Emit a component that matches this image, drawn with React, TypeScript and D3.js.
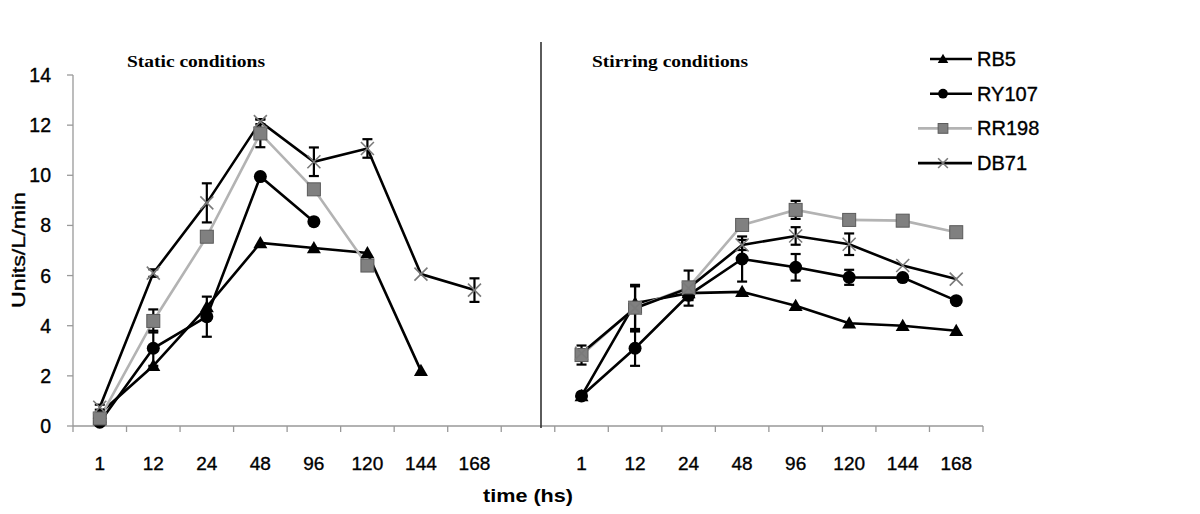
import React from "react";
import * as d3 from "d3";

const times = ["1", "12", "24", "48", "96", "120", "144", "168"];
const yTicks = [0, 2, 4, 6, 8, 10, 12, 14];
const seriesNames = ["RB5", "RY107", "RR198", "DB71"];

// Static conditions
const staticRB5 = [0.5, 2.4, 4.75, 7.3, 7.1, 6.9, 2.2, null];
const staticRY107 = [0.15, 3.1, 4.36, 9.95, 8.15, null, null, null];
const staticRR198 = [0.3, 4.19, 7.55, 11.67, 9.44, 6.4, null, null];
const staticDB71 = [0.75, 6.1, 8.9, 12.14, 10.54, 11.07, 6.06, 5.42];
const staticErrRB5 = [0, 0, 0, 0, 0, 0, 0, 0];
const staticErrRY107 = [0, 0.7, 0.8, 0, 0, 0, 0, 0];
const staticErrRR198 = [0, 0.46, 0, 0.55, 0, 0, 0, 0];
const staticErrDB71 = [0.1, 0.15, 0.78, 0.1, 0.57, 0.37, 0, 0.47];

// Stirring conditions
const stirRB5 = [1.2, 4.9, 5.3, 5.35, 4.8, 4.1, 4.0, 3.8];
const stirRY107 = [1.2, 3.1, 5.22, 6.66, 6.33, 5.93, 5.92, 5.0];
const stirRR198 = [2.83, 4.72, 5.53, 8.02, 8.62, 8.22, 8.19, 7.73];
const stirDB71 = [2.9, 4.7, 5.5, 7.22, 7.58, 7.25, 6.4, 5.86];
const stirErrRB5 = [0, 0, 0, 0, 0, 0, 0, 0];
const stirErrRY107 = [0, 0.7, 0.2, 0.9, 0.53, 0.3, 0, 0];
const stirErrRR198 = [0.38, 0.85, 0.2, 0.2, 0.36, 0, 0, 0];
const stirErrDB71 = [0.15, 0.93, 0.7, 0.2, 0.35, 0.43, 0, 0];

type Style = { line: string; marker: string };
const styles: Style[] = [
  { line: "#000", marker: "triangle" },
  { line: "#000", marker: "circle" },
  { line: "#b3b3b3", marker: "square" },
  { line: "#000", marker: "cross" },
];

function Marker({ kind, x, y, s = 1 }: { kind: string; x: number; y: number; s?: number }) {
  if (kind === "triangle") {
    const r = 7 * s;
    return (
      <path
        d={`M${x},${y - r}L${x + r},${y + r * 0.75}L${x - r},${y + r * 0.75}Z`}
        fill="#000"
      />
    );
  }
  if (kind === "circle") return <circle cx={x} cy={y} r={6.5 * s} fill="#000" />;
  if (kind === "square") {
    const h = 6.5 * s;
    return <rect x={x - h} y={y - h} width={2 * h} height={2 * h} fill="#808080" stroke="#5a5a5a" strokeWidth={1} />;
  }
  const h = 6.5 * s;
  return (
    <path d={`M${x - h},${y - h}L${x + h},${y + h}M${x - h},${y + h}L${x + h},${y - h}`} stroke="#7a7a7a" strokeWidth={1.6} fill="none" />
  );
}

export default function App() {
  const W = 1200, H = 514;
  const keys = [...times.map((t) => "L" + t), "gap", ...times.map((t) => "R" + t)];
  const x = d3.scaleBand<string>().domain(keys).range([73, 983]).padding(0);
  const bw = x.bandwidth();
  const cx = (k: string) => (x(k) as number) + bw / 2;
  const y = d3.scaleLinear().domain([0, 14]).range([426, 75]);

  const panels = [
    { prefix: "L", data: [staticRB5, staticRY107, staticRR198, staticDB71], err: [staticErrRB5, staticErrRY107, staticErrRR198, staticErrDB71] },
    { prefix: "R", data: [stirRB5, stirRY107, stirRR198, stirDB71], err: [stirErrRB5, stirErrRY107, stirErrRR198, stirErrDB71] },
  ];

  const drawOrder = [0, 1, 2, 3];
  const heavy = { stroke: "#000", strokeWidth: 0.35 };

  return (
    <svg width={W} height={H} style={{ position: "absolute", left: 0, top: 0, background: "#fff" }} fontFamily="Liberation Sans, Arial, sans-serif">
      <rect width={W} height={H} fill="#fff" />
      {/* y axis */}
      <line x1={73} x2={73} y1={75} y2={426} stroke="#999" strokeWidth={1.3} />
      {yTicks.map((t) => (
        <g key={t}>
          <line x1={67} x2={73} y1={y(t)} y2={y(t)} stroke="#999" strokeWidth={1.3} />
          <text x={51} y={y(t) + 7} textAnchor="end" fontSize={19.5} fill="#000" {...heavy}>{t}</text>
        </g>
      ))}
      <text transform={`translate(25,250) rotate(-90)`} textAnchor="middle" fontSize={19} fill="#000" textLength={116} lengthAdjust="spacingAndGlyphs" {...heavy}>Units/L/min</text>
      {/* x axis */}
      <line x1={73} x2={983} y1={426} y2={426} stroke="#999" strokeWidth={1.3} />
      {keys.map((k) => (
        <line key={k} x1={x(k)} x2={x(k)} y1={426} y2={432} stroke="#999" strokeWidth={1.3} />
      ))}
      <line x1={983} x2={983} y1={426} y2={432} stroke="#999" strokeWidth={1.3} />
      {keys.filter((k) => k !== "gap").map((k) => (
        <text key={k} x={cx(k)} y={470} textAnchor="middle" fontSize={19} fill="#000" {...heavy}>{k.slice(1)}</text>
      ))}
      <text x={528} y={502} textAnchor="middle" fontSize={18} fontWeight="bold" fill="#000" textLength={90} lengthAdjust="spacingAndGlyphs">time (hs)</text>
      {/* divider */}
      <line x1={541} x2={541} y1={42} y2={428} stroke="#333" strokeWidth={1.6} />
      <text x={127} y={67} fontFamily="Liberation Serif, serif" fontWeight="bold" fontSize={17} fill="#000" textLength={138} lengthAdjust="spacingAndGlyphs">Static conditions</text>
      <text x={592} y={67} fontFamily="Liberation Serif, serif" fontWeight="bold" fontSize={17} fill="#000" textLength={156} lengthAdjust="spacingAndGlyphs">Stirring conditions</text>

      {panels.map((p) => (
        <g key={p.prefix}>
          {drawOrder.map((si) => {
            const pts = p.data[si]
              .map((v, i) => (v == null ? null : [cx(p.prefix + times[i]), y(v)] as [number, number]))
              .filter((d) => d != null) as [number, number][];
            const line = d3.line();
            return (
              <g key={si}>
                <path d={line(pts) || ""} fill="none" stroke={styles[si].line} strokeWidth={2.6} />
              </g>
            );
          })}
          {drawOrder.map((si) => (
            <g key={"e" + si}>
              {p.data[si].map((v, i) => {
                const e = p.err[si][i];
                if (v == null || !e) return null;
                const xx = cx(p.prefix + times[i]);
                return (
                  <g key={i} stroke="#000" strokeWidth={2.2}>
                    <line x1={xx} x2={xx} y1={y(v - e)} y2={y(v + e)} />
                    <line x1={xx - 5} x2={xx + 5} y1={y(v - e)} y2={y(v - e)} />
                    <line x1={xx - 5} x2={xx + 5} y1={y(v + e)} y2={y(v + e)} />
                  </g>
                );
              })}
            </g>
          ))}
          {drawOrder.map((si) => (
            <g key={"m" + si}>
              {p.data[si].map((v, i) =>
                v == null ? null : <Marker key={i} kind={styles[si].marker} x={cx(p.prefix + times[i])} y={y(v)} />
              )}
            </g>
          ))}
        </g>
      ))}

      {/* legend */}
      {seriesNames.map((n, i) => {
        const ly = 59 + i * 34.7;
        const x0 = i < 2 ? 930 : 918;
        return (
          <g key={n}>
            <line x1={x0} x2={972} y1={ly} y2={ly} stroke={styles[i].line} strokeWidth={2.6} />
            <Marker kind={styles[i].marker} x={943} y={ly} s={0.75} />
            <text x={977} y={ly + 7} fontSize={20} fill="#000" {...heavy}>{n}</text>
          </g>
        );
      })}
    </svg>
  );
}
